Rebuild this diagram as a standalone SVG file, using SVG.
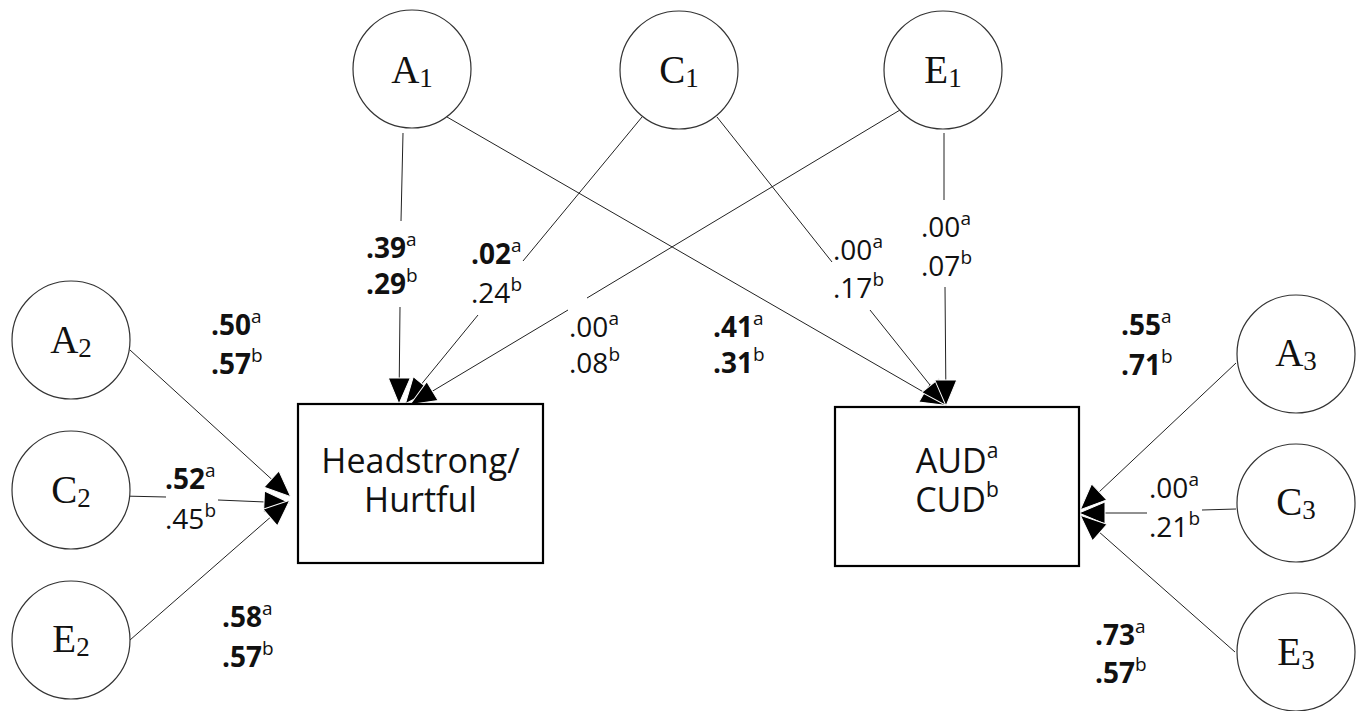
<svg xmlns="http://www.w3.org/2000/svg" width="1360" height="711" viewBox="0 0 1360 711">
  <style>
    .bg { fill: #ffffff; }
    .circ { fill: #ffffff; stroke: #333333; stroke-width: 1.2; }
    .box { fill: #ffffff; stroke: #000000; stroke-width: 2.2; }
    .conn { fill: none; stroke: #222222; stroke-width: 1; marker-end: url(#arrow); }
    .lat { font-family: "Liberation Serif", "Times New Roman", serif; font-size: 39px; fill: #111; text-anchor: middle; }
    .lat .sub { font-size: 27px; }
    .var { font-family: "Open Sans", "Liberation Sans", sans-serif; font-size: 34px; fill: #111; text-anchor: middle; }
    .var .sup { font-size: 21px; }
    .lbl { font-family: "Open Sans", "Liberation Sans", sans-serif; font-size: 28px; fill: #111; }
    .lbl.b { font-weight: bold; }
    .lbl .sup { font-size: 19px; font-weight: normal; }
  </style>
  <defs>
    <marker id="arrow" markerUnits="userSpaceOnUse" markerWidth="1" markerHeight="1" refX="0" refY="0" orient="auto" overflow="visible">
      <path d="M1,0 L-25,-11 L-25,11 Z" fill="#000000" stroke="#ffffff" stroke-width="1"/>
    </marker>
  </defs>

  <rect class="bg" x="0" y="0" width="1360" height="711"/>

  <!-- paths between latent factors and observed variables -->
  <g id="connectors">
    <path class="conn" d="M403,133 L401,221 M400,307 L399,403"/>
    <path class="conn" d="M642,117 L523,261 M478,315 L406,403"/>
    <path class="conn" d="M900,110 L587,298 M568,310 L411,404"/>
    <path class="conn" d="M447,117 L946,405"/>
    <path class="conn" d="M717,117 L832,262 M870,310 L946,405"/>
    <path class="conn" d="M944,133 L944,200 M945,287 L946,405"/>
    <path class="conn" d="M130,350 L290,496"/>
    <path class="conn" d="M122,496 L166,497 M218,500 L289,503"/>
    <path class="conn" d="M130,640 L289,501"/>
    <path class="conn" d="M1236,363 L1081,509"/>
    <path class="conn" d="M1236,509 L1202,510 M1147,513 L1080,513"/>
    <path class="conn" d="M1235,652 L1081,516"/>
  </g>

  <!-- latent factors -->
  <g id="A1"><circle class="circ" cx="412" cy="69" r="59"/><text class="lat" x="412" y="83">A<tspan class="sub" dy="4">1</tspan></text></g>
  <g id="C1"><circle class="circ" cx="679" cy="70" r="59"/><text class="lat" x="679" y="83">C<tspan class="sub" dy="4">1</tspan></text></g>
  <g id="E1"><circle class="circ" cx="943" cy="70" r="59"/><text class="lat" x="943" y="83">E<tspan class="sub" dy="4">1</tspan></text></g>
  <g id="A2"><circle class="circ" cx="71" cy="340" r="59"/><text class="lat" x="71" y="353">A<tspan class="sub" dy="4">2</tspan></text></g>
  <g id="C2"><circle class="circ" cx="71" cy="490" r="59"/><text class="lat" x="71" y="503">C<tspan class="sub" dy="4">2</tspan></text></g>
  <g id="E2"><circle class="circ" cx="71" cy="640" r="59"/><text class="lat" x="71" y="652">E<tspan class="sub" dy="4">2</tspan></text></g>
  <g id="A3"><circle class="circ" cx="1296" cy="354" r="59"/><text class="lat" x="1296" y="366">A<tspan class="sub" dy="4">3</tspan></text></g>
  <g id="C3"><circle class="circ" cx="1296" cy="503" r="59"/><text class="lat" x="1296" y="515">C<tspan class="sub" dy="4">3</tspan></text></g>
  <g id="E3"><circle class="circ" cx="1296" cy="652" r="59"/><text class="lat" x="1296" y="665">E<tspan class="sub" dy="4">3</tspan></text></g>

  <!-- observed variables -->
  <g id="headstrong">
    <rect class="box" x="298" y="404" width="245" height="159"/>
    <text class="var" x="420.5" y="473">Headstrong/<tspan x="420.5" dy="39">Hurtful</tspan></text>
  </g>
  <g id="aud-cud">
    <rect class="box" x="835" y="407" width="244" height="159"/>
    <text class="var" x="957" y="473">AUD<tspan class="sup" dy="-15">a</tspan><tspan x="957" dy="54">CUD</tspan><tspan class="sup" dy="-15">b</tspan></text>
  </g>

  <!-- path coefficients -->
  <g id="labels">
    <text class="lbl b" x="366" y="258">.39<tspan class="sup" dy="-12">a</tspan></text>
    <text class="lbl b" x="366" y="294">.29<tspan class="sup" dy="-12">b</tspan></text>

    <text class="lbl b" x="471" y="264">.02<tspan class="sup" dy="-12">a</tspan></text>
    <text class="lbl" x="471" y="303">.24<tspan class="sup" dy="-12">b</tspan></text>

    <text class="lbl" x="569" y="337">.00<tspan class="sup" dy="-12">a</tspan></text>
    <text class="lbl" x="569" y="373">.08<tspan class="sup" dy="-12">b</tspan></text>

    <text class="lbl b" x="713" y="337">.41<tspan class="sup" dy="-12">a</tspan></text>
    <text class="lbl b" x="713" y="373">.31<tspan class="sup" dy="-12">b</tspan></text>

    <text class="lbl" x="833" y="260">.00<tspan class="sup" dy="-12">a</tspan></text>
    <text class="lbl" x="833" y="298">.17<tspan class="sup" dy="-12">b</tspan></text>

    <text class="lbl" x="921" y="237">.00<tspan class="sup" dy="-12">a</tspan></text>
    <text class="lbl" x="921" y="276">.07<tspan class="sup" dy="-12">b</tspan></text>

    <text class="lbl b" x="211" y="335">.50<tspan class="sup" dy="-12">a</tspan></text>
    <text class="lbl b" x="211" y="374">.57<tspan class="sup" dy="-12">b</tspan></text>

    <text class="lbl b" x="165" y="489">.52<tspan class="sup" dy="-12">a</tspan></text>
    <text class="lbl" x="165" y="529">.45<tspan class="sup" dy="-12">b</tspan></text>

    <text class="lbl b" x="222" y="627">.58<tspan class="sup" dy="-12">a</tspan></text>
    <text class="lbl b" x="222" y="667">.57<tspan class="sup" dy="-12">b</tspan></text>

    <text class="lbl b" x="1121" y="335">.55<tspan class="sup" dy="-12">a</tspan></text>
    <text class="lbl b" x="1121" y="375">.71<tspan class="sup" dy="-12">b</tspan></text>

    <text class="lbl" x="1149" y="498">.00<tspan class="sup" dy="-12">a</tspan></text>
    <text class="lbl" x="1149" y="537">.21<tspan class="sup" dy="-12">b</tspan></text>

    <text class="lbl b" x="1095" y="645">.73<tspan class="sup" dy="-12">a</tspan></text>
    <text class="lbl b" x="1095" y="683">.57<tspan class="sup" dy="-12">b</tspan></text>
  </g>
</svg>
